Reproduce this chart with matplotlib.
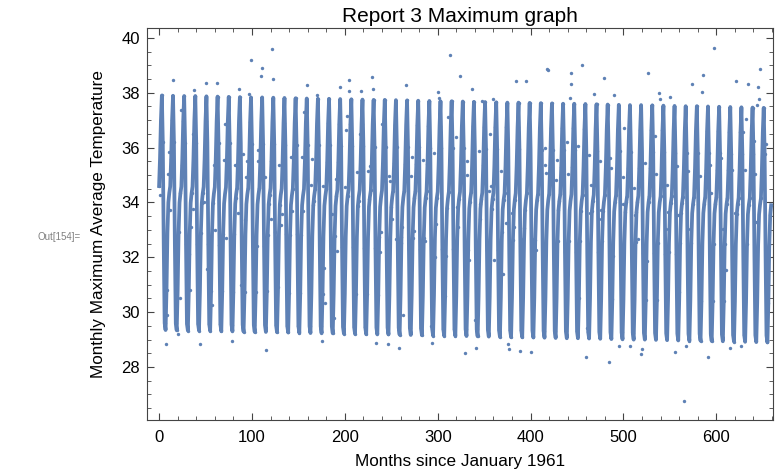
import matplotlib.pyplot as plt
import numpy as np
from matplotlib.ticker import MultipleLocator

# fitted seasonal profile, Jan..Dec of 1961
month_profile = [34.6, 35.6, 37.0, 37.9, 36.2, 32.5, 29.6, 29.35, 30.8, 32.9, 34.0, 34.35]

# slow drift of the fitted curve, one value per year 1961..2015
year_shift = [
    0.00, -0.01, -0.02, -0.02, -0.03, -0.04, -0.05, -0.06, -0.07, -0.07,
    -0.08, -0.09, -0.10, -0.11, -0.12, -0.12, -0.13, -0.14, -0.15, -0.16,
    -0.16, -0.17, -0.18, -0.19, -0.20, -0.21, -0.21, -0.22, -0.23, -0.24,
    -0.25, -0.26, -0.26, -0.27, -0.28, -0.29, -0.30, -0.30, -0.31, -0.32,
    -0.33, -0.34, -0.35, -0.35, -0.36, -0.37, -0.38, -0.39, -0.39, -0.40,
    -0.41, -0.42, -0.43, -0.44, -0.45,
]

# observed months that sit visibly away from the fitted curve: (month, temperature)
off_curve = [
    (15, 38.47), (38, 38.10), (51, 38.36), (62, 38.37), (86, 38.15), (99, 39.2),
    (111, 38.9), (110, 38.62), (123, 38.49), (122, 39.6), (97, 37.95),
    (7, 28.83), (20, 29.21), (44, 28.83), (79, 28.95), (115, 28.61), (9, 29.89),
    (1, 34.27), (11, 35.84), (10, 35.05), (12, 33.72), (24, 37.37), (25, 35.36),
    (21, 32.92), (22, 30.51), (36, 33.76), (37, 36.5), (48, 34.03), (59, 35.35),
    (60, 32.99), (72, 32.69), (70, 35.53), (71, 36.86), (82, 35.38), (83, 34.15),
    (85, 33.61), (90, 35.78), (94, 34.94), (95, 35.51), (93, 33.36), (88, 30.99),
    (106, 35.51), (105, 32.41), (107, 35.91), (114, 34.94), (120, 33.39),
    (125, 32.94), (116, 30.78), (32, 32.12), (33, 30.8), (57, 30.26), (52, 31.57),
    (34, 33.1),
    (159, 38.28), (195, 38.22), (204, 38.47), (205, 38.05), (217, 38.05),
    (229, 38.59), (230, 38.14), (170, 37.9),
    (175, 28.94), (234, 28.88), (246, 28.83), (258, 28.7),
    (129, 35.35), (132, 33.58), (131, 33.18), (142, 35.64), (143, 33.69),
    (137, 32.85), (154, 35.64), (155, 33.69), (149, 32.85), (156, 37.3),
    (165, 35.57), (164, 34.64), (167, 34.05), (172, 36.1), (177, 34.6),
    (178, 31.62), (179, 30.35), (188, 29.79), (190, 34.85), (192, 32.22),
    (186, 33.58), (201, 36.64), (202, 37.15), (200, 34.57), (213, 35.12),
    (215, 34.05), (216, 36.5), (225, 35.15), (227, 35.33), (226, 34.11),
    (239, 32.91), (238, 32.2), (240, 36.85), (248, 34.96), (249, 34.79),
    (251, 33.38), (255, 32.65), (235, 30.72), (128, 30.93), (163, 30.6),
    (266, 38.27), (313, 39.39), (324, 38.6), (300, 38.02), (301, 37.81),
    (337, 38.14), (348, 37.71), (360, 37.77), (384, 38.42), (395, 38.42),
    (294, 28.89), (329, 28.5), (341, 28.7), (376, 28.83), (377, 28.65), (389, 28.58),
    (262, 33.12), (260, 32.51), (272, 35.67), (271, 34.96), (274, 32.96),
    (263, 29.89), (284, 35.56), (286, 32.6), (297, 32.02), (296, 35.79),
    (298, 33.21), (309, 32.04), (311, 37.13), (320, 36.38), (322, 33.09),
    (321, 33.84), (331, 35.0), (332, 35.52), (333, 32.26), (334, 31.9),
    (335, 34.03), (344, 35.89), (346, 33.94), (345, 33.38), (356, 36.5),
    (357, 34.59), (355, 34.42), (361, 31.92), (368, 35.16), (370, 31.41),
    (369, 32.91), (373, 33.26), (380, 33.62), (382, 33.09), (393, 33.08),
    (392, 32.65), (293, 29.49), (340, 29.71),
    (418, 38.87), (419, 38.82), (444, 38.73), (455, 39.0), (443, 38.31),
    (442, 37.79), (468, 37.97), (479, 38.53), (490, 37.93), (526, 38.73),
    (400, 28.56), (460, 28.38), (484, 28.18), (495, 28.76), (507, 28.76),
    (519, 28.47), (520, 28.67),
    (404, 32.65), (406, 32.26), (416, 35.97), (415, 35.36), (417, 35.06),
    (428, 35.55), (427, 34.82), (439, 36.19), (440, 35.04), (451, 36.05),
    (463, 35.74), (465, 34.64), (464, 33.62), (475, 35.51), (476, 33.72),
    (474, 33.39), (486, 35.63), (487, 35.24), (489, 32.04), (499, 34.94),
    (500, 33.93), (501, 36.7), (512, 33.54), (511, 34.53), (523, 35.44),
    (525, 31.86), (516, 32.65), (461, 29.41), (402, 31.4),
    (538, 37.98), (539, 37.77), (550, 37.86), (574, 38.33), (585, 38.03),
    (586, 38.64), (598, 39.64), (621, 38.44), (634, 38.33), (647, 38.87),
    (645, 38.22), (646, 37.77), (644, 37.57), (653, 36.14),
    (555, 28.56), (567, 28.76), (565, 26.76), (591, 28.37), (615, 28.71), (627, 28.78),
    (534, 36.42), (535, 35.04), (547, 34.64), (548, 33.66), (549, 32.18),
    (558, 35.33), (559, 33.54), (560, 30.75), (570, 35.15), (572, 33.04),
    (582, 34.96), (593, 35.36), (594, 34.33), (605, 35.61), (607, 33.02),
    (610, 31.53), (617, 35.17), (620, 33.6), (629, 36.58), (632, 37.03),
    (631, 35.17), (641, 36.25), (642, 35.04), (643, 33.3), (654, 32.3),
    (546, 33.03),
]

BLUE = "#5E81B5"
FRAME = "#444444"


def main() -> None:
    months = np.arange(len(year_shift) * 12)
    fitted = np.array([month_profile[m % 12] + year_shift[m // 12] for m in months])
    observed = fitted.copy()
    for month, value in off_curve:
        observed[month] = value

    plt.rcParams["font.family"] = ["Liberation Sans", "DejaVu Sans"]
    fig = plt.figure(figsize=(7.76, 4.73), dpi=100)
    ax = fig.add_axes([147 / 776, 1 - 420 / 473, 626 / 776, 392 / 473])

    ax.plot(months, fitted, color=BLUE, linewidth=2.7, solid_joinstyle="round", zorder=2)
    ax.scatter(months, observed, s=6, color=BLUE, linewidths=0, zorder=3)

    ax.set_xlim(-13, 661)
    ax.set_ylim(26.07, 40.36)
    ax.xaxis.set_major_locator(MultipleLocator(100))
    ax.xaxis.set_minor_locator(MultipleLocator(20))
    ax.yaxis.set_major_locator(MultipleLocator(2))
    ax.yaxis.set_minor_locator(MultipleLocator(0.5))
    ax.tick_params(which="both", direction="in", top=True, right=True, color=FRAME,
                   labelsize=12)
    ax.tick_params(axis="x", pad=7)
    ax.tick_params(axis="y", pad=5)
    ax.tick_params(which="major", length=5, width=0.8)
    ax.tick_params(which="minor", length=3, width=0.6)
    for spine in ax.spines.values():
        spine.set_color(FRAME)
        spine.set_linewidth(0.8)

    ax.set_title("Report 3 Maximum graph", fontsize=15, pad=4)
    ax.set_xlabel("Months since January 1961", fontsize=12.3, labelpad=7)
    ax.set_ylabel("Monthly Maximum Average Temperature", fontsize=12.3, labelpad=11)
    fig.text(38 / 776, 1 - 237 / 473, "Out[154]=", fontsize=7, color="#808080",
             ha="left", va="center")

    fig.savefig("out.png", dpi=100)


if __name__ == "__main__":
    main()
